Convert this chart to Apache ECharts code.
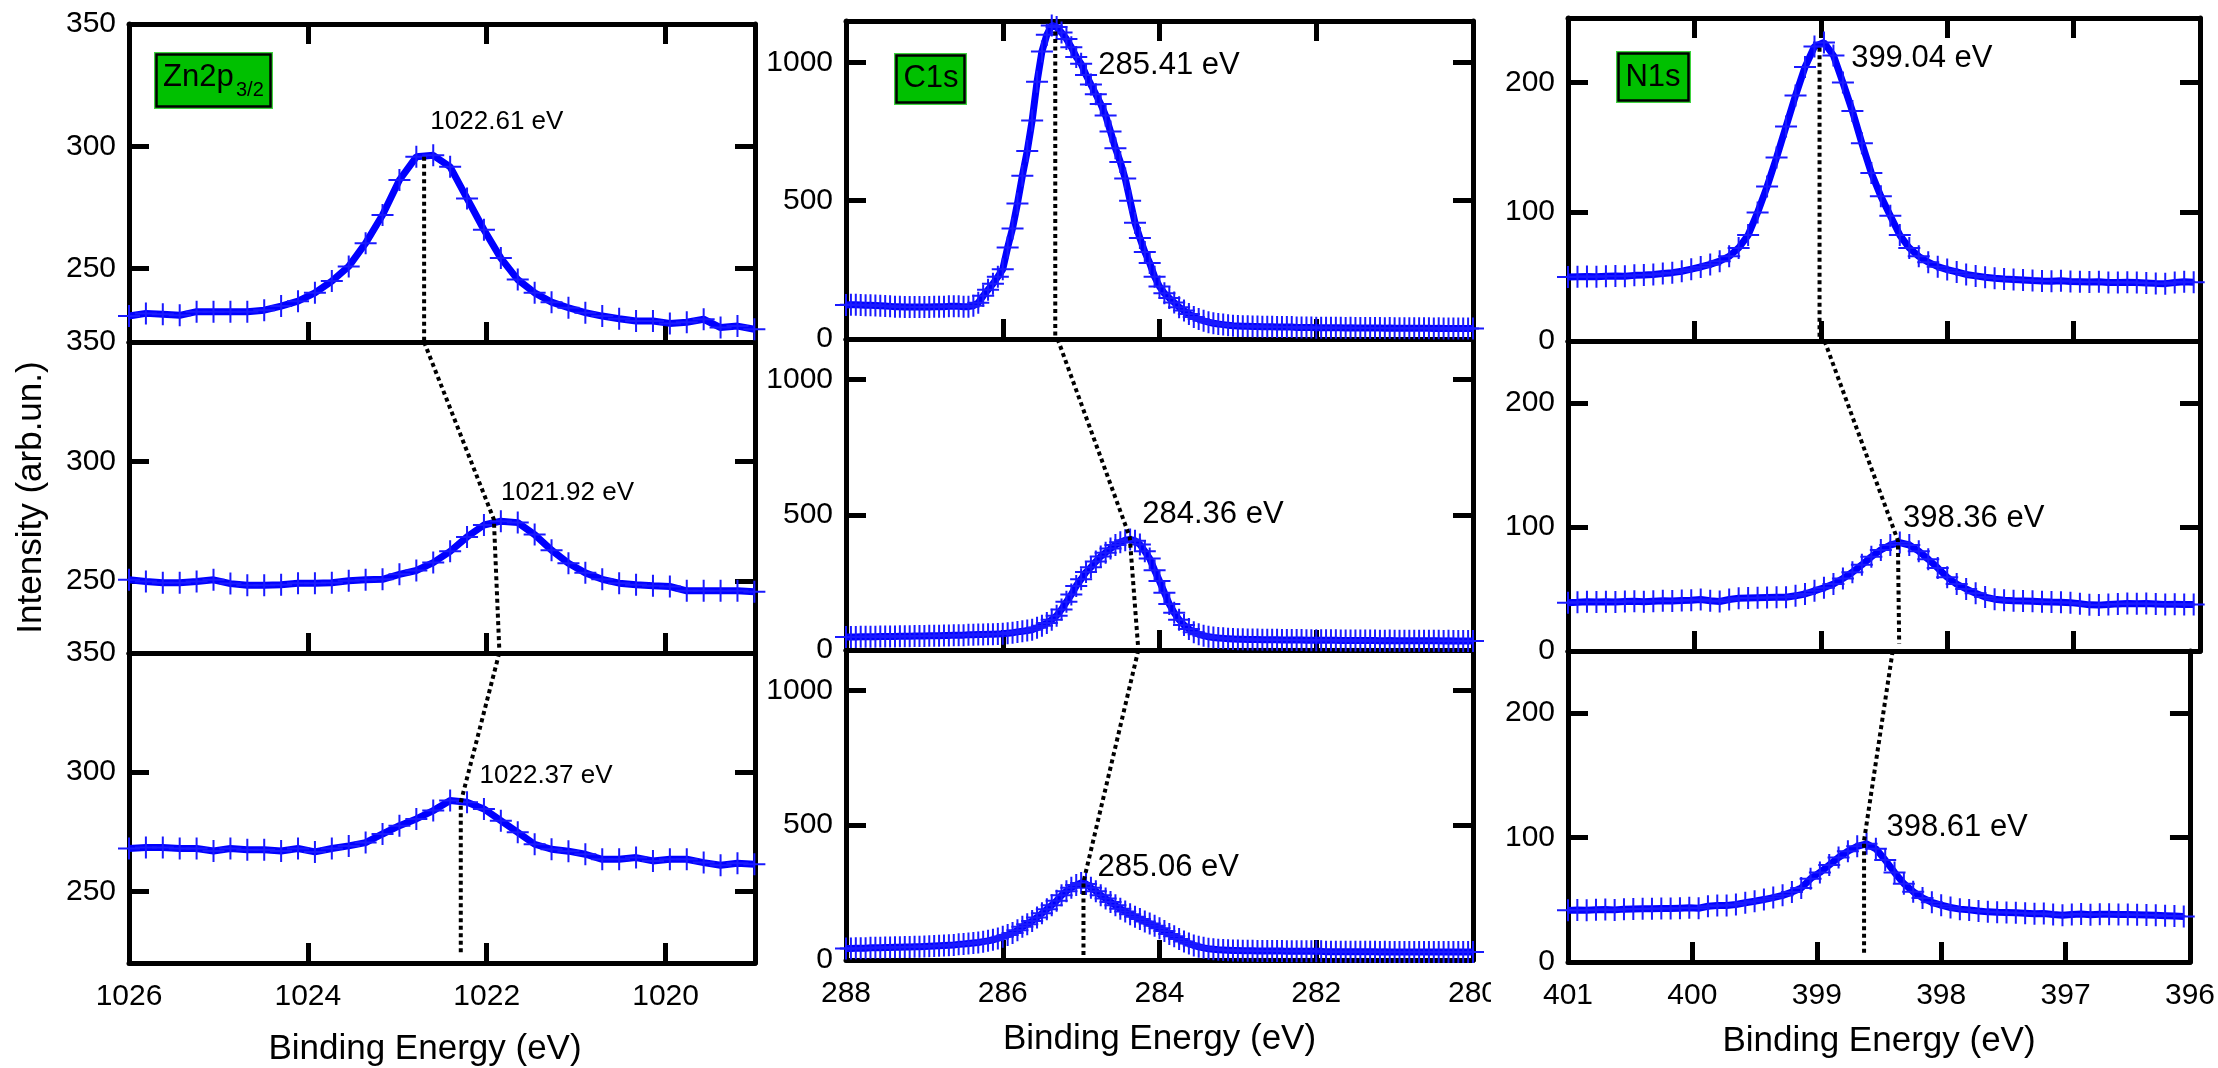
<!DOCTYPE html>
<html>
<head>
	<meta charset="utf-8">
	<title>XPS core levels</title>
	<style>
		html, body {
			margin: 0;
			padding: 0;
			background: #fff;
		}
		#chart {
			width: 2218px;
			height: 1068px;
		}
	</style>
	<script src="https://cdn.jsdelivr.net/npm/echarts@6/dist/echarts.min.js"></script>
</head>
<body>

<div id="chart"></div>

<script>

// ---- data ----

// Zn2p3/2, 38 points, 1026 -> 1019 eV
var znStart = 1026, znStep = 0.189;
var znTop = [230.6, 231.7, 231.3, 230.9, 232.4, 232.4, 232.4, 232.4, 233.0, 234.7,
	236.7, 240.1, 244.9, 250.9, 260.4, 271.9, 286.2, 295.7, 296.3, 291.6,
	278.7, 265.9, 254.3, 245.5, 240.1, 236.3, 234.0, 232.0, 230.6, 229.5,
	228.6, 228.6, 227.6, 228.1, 229.3, 225.9, 226.5, 225.2];
var znMid = [250.6, 249.9, 249.4, 249.4, 249.9, 250.6, 249.0, 248.3, 248.3, 248.5,
	249.2, 249.2, 249.4, 250.2, 250.6, 250.8, 252.9, 254.5, 257.8, 262.5,
	268.5, 273.5, 275.1, 274.5, 269.5, 263.0, 257.5, 253.5, 250.8, 249.2,
	248.5, 248.1, 247.8, 246.0, 246.0, 246.0, 246.0, 245.6];
var znBot = [268.0, 268.4, 268.4, 268.0, 268.0, 267.0, 268.0, 267.5, 267.5, 267.0,
	268.0, 266.6, 268.0, 269.1, 270.5, 274.1, 277.6, 280.4, 283.9, 288.1,
	287.4, 284.6, 279.7, 274.8, 269.8, 267.7, 266.9, 265.6, 263.5, 263.5,
	264.2, 262.8, 263.5, 263.5, 262.1, 261.0, 261.8, 261.4];
var znTicksX = [1026, 1024, 1022, 1020];
var znTicksY = [250, 300, 350];
var znDots = [
	[[1022.70, 295.7], [1022.70, 220]],
	[[1022.70, 350], [1021.92, 275.8], [1021.86, 222]],
	[[1021.86, 350], [1022.29, 287.4], [1022.29, 223.4]]
];
var znLabels = ['1022.61 eV', '1021.92 eV', '1022.37 eV'];
var znLabelAt = [[1022.63, 309.9], [1021.84, 287.1], [1022.08, 298.6]];

// C1s, 129 points, 288 -> 280 eV
var c1sStart = 288, c1sStep = 0.0625;
var c1sTop = [123, 124, 124, 123, 122, 122, 121, 120, 119, 118,
	117, 117, 116, 116, 116, 116, 116, 116, 117, 117,
	117, 118, 118, 118, 117, 117, 120, 131, 156, 178,
	200, 225, 252, 331, 400, 490, 590, 680, 790, 930,
	1040, 1100, 1134, 1128, 1108, 1085, 1055, 1020, 995, 955,
	920, 885, 850, 808, 750, 690, 640, 580, 500, 420,
	365, 315, 275, 225, 190, 165, 148, 132, 115, 103,
	90, 80, 72, 66, 61, 57, 54, 52, 50, 48,
	47, 46, 46, 45, 45, 44, 44, 44, 43, 43,
	43, 43, 42, 42, 42, 42, 41, 41, 41, 41,
	41, 41, 40, 41, 40, 40, 40, 40, 40, 40,
	39, 40, 39, 39, 39, 39, 39, 39, 39, 39,
	38, 39, 38, 38, 38, 38, 38, 38, 38];
var c1sMid = [48, 48, 48, 49, 49, 49, 49, 50, 50, 50,
	50, 51, 51, 51, 52, 52, 52, 53, 53, 53,
	54, 54, 55, 55, 55, 56, 56, 57, 57, 58,
	58, 59, 60, 62, 64, 67, 69, 72, 75, 82,
	90, 100, 112, 127, 150, 178, 205, 237, 262, 288,
	306, 327, 346, 360, 375, 388, 398, 406, 409, 404,
	390, 365, 338, 295, 255, 212, 170, 138, 112, 92,
	78, 66, 58, 53, 49, 46, 44, 43, 42, 41,
	40, 40, 39, 39, 39, 38, 38, 38, 38, 37,
	37, 37, 37, 37, 36, 36, 36, 36, 36, 36,
	36, 35, 35, 35, 35, 35, 35, 35, 35, 34,
	34, 35, 34, 34, 34, 34, 34, 34, 34, 34,
	34, 34, 33, 34, 33, 33, 33, 33, 33];
var c1sBot = [43, 43, 44, 44, 44, 45, 45, 45, 46, 46,
	47, 47, 48, 48, 49, 49, 50, 51, 52, 53,
	54, 55, 56, 58, 59, 61, 63, 65, 68, 71,
	75, 80, 86, 93, 100, 110, 123, 133, 145, 158,
	173, 188, 203, 220, 240, 255, 268, 278, 286, 282,
	268, 255, 240, 228, 215, 203, 190, 180, 170, 160,
	152, 143, 135, 127, 118, 108, 96, 88, 78, 69,
	61, 54, 49, 45, 42, 40, 38, 37, 36, 35,
	35, 34, 34, 34, 33, 33, 33, 33, 33, 33,
	32, 32, 32, 32, 32, 32, 32, 32, 31, 31,
	31, 31, 31, 31, 31, 31, 31, 31, 31, 30,
	31, 30, 30, 30, 30, 30, 30, 30, 30, 30,
	30, 30, 30, 30, 30, 30, 30, 30, 30];
var c1sTicksX = [288, 286, 284, 282, 280];
var c1sTicksY = [0, 500, 1000];
var c1sDots = [
	[[285.33, 1112], [285.33, 8]],
	[[285.30, 1150], [284.38, 418], [284.27, 0]],
	[[284.27, 1150], [284.97, 290], [284.97, 18]]
];
var c1sLabels = ['285.41 eV', '284.36 eV', '285.06 eV'];
var c1sLabelAt = [[284.78, 989], [284.22, 500], [284.79, 345]];

// N1s, 67 points, 401 -> 396 eV
var n1sStart = 401, n1sStep = 0.075;
var n1sTop = [49.6, 49.8, 49.9, 49.8, 50.1, 50.4, 50.2, 50.8, 51.1, 51.5,
	52.2, 52.9, 54.0, 55.6, 57.3, 59.3, 61.8, 65.5, 72.0, 82.0,
	99.5, 119.5, 142, 166, 190, 212, 228, 231, 221, 200,
	178, 153, 130, 112, 97, 82, 72, 65.5, 61, 57.5,
	55.3, 53.5, 51.5, 50.4, 49.3, 48.6, 48.0, 47.6, 47.2, 46.8,
	46.5, 46.3, 46.6, 46.0, 45.9, 45.7, 45.8, 45.3, 45.2, 45.5,
	45.2, 44.9, 44.6, 44.4, 45.3, 45.8, 45.5];
var n1sMid = [39.0, 39.3, 39.8, 39.5, 39.8, 39.6, 39.9, 40.1, 39.8, 40.2,
	40.5, 40.3, 40.8, 41.0, 41.6, 40.5, 39.9, 41.5, 42.5, 42.8,
	43.0, 43.2, 43.3, 43.4, 44.5, 46, 48.5, 51, 54, 58.5,
	63.5, 69.5, 76, 81.5, 85.5, 87.4, 85.5, 80.5, 74, 67,
	59.5, 54, 50, 46.5, 43.5, 41.8, 41.0, 40.5, 40.3, 40.1,
	39.8, 39.5, 39.3, 39.0, 38.2, 37.2, 37.0, 37.5, 38.0, 38.4,
	38.1, 38.3, 38.0, 37.6, 37.8, 37.5, 37.6];
var n1sBot = [41.5, 41.8, 41.6, 42.0, 42.2, 41.9, 42.5, 42.7, 42.8, 42.9,
	43.1, 43.0, 43.3, 43.6, 43.2, 44.8, 45.4, 45.5, 46.2, 47.6,
	48.8, 50.2, 51.8, 53.6, 56.2, 59.5, 67, 72, 78, 84,
	89, 93, 95, 91, 82, 72, 63, 56.5, 51.5, 48,
	45.7, 43.8, 42.5, 41.9, 41.0, 40.3, 40.0, 39.8, 39.5, 39.2,
	38.8, 38.9, 38.2, 37.6, 38.2, 38.6, 38.0, 38.3, 38.4, 38.2,
	38.1, 37.9, 37.7, 37.5, 37.2, 36.9, 36.6];
var n1sTicksX = [401, 400, 399, 398, 397, 396];
var n1sTicksY = [0, 100, 200];
var n1sDots = [
	[[399.01, 227], [399.01, 3]],
	[[398.97, 250], [398.39, 89], [398.38, 6]],
	[[398.39, 250], [398.62, 97.6], [398.62, 5]]
];
var n1sLabels = ['399.04 eV', '398.36 eV', '398.61 eV'];
var n1sLabelAt = [[398.76, 218.4], [398.35, 106.5], [398.44, 108.3]];

// ---- drawing ----

var FONT = '"Liberation Sans", Arial, Helvetica, sans-serif';
var INK = '#000';
var PLUS = 'path://M-1,-11H1V-1H11V1H1V11H-1V1H-11V-1H-1Z';

function energyGrid (start, step, n) {
	var out = [];
	for (var i = 0; i < n; i++) {
		out.push(+(start - i * step).toFixed(4));
	}
	return out;
}

function plain (v) {
	return String(v);
}

var columns = [
	{
		left: 129, width: 626, tops: [24, 342, 653], heights: [318, 311, 310],
		xMin: 1019, xMax: 1026, xTicks: znTicksX, yMin: 220, yMax: 350, yTicks: znTicksY,
		energy: energyGrid(znStart, znStep, znTop.length), curves: [znTop, znMid, znBot],
		dots: znDots, labels: znLabels, labelAt: znLabelAt,
		labelSize: 26, nameGap: 69, namePad: [0, 34, 0, 0]
	},
	{
		left: 846, width: 627, tops: [21, 339, 650], heights: [318, 311, 310],
		xMin: 280, xMax: 288, xTicks: c1sTicksX, yMin: 0, yMax: 1150, yTicks: c1sTicksY,
		energy: energyGrid(c1sStart, c1sStep, c1sTop.length), curves: [c1sTop, c1sMid, c1sBot],
		dots: c1sDots, labels: c1sLabels, labelAt: c1sLabelAt,
		labelSize: 31, nameGap: 62, namePad: 0
	},
	{
		left: 1568, width: 632, tops: [18, 341, 651], heights: [323, 310, 311],
		xMin: 396, xMax: 401, xTicks: n1sTicksX, yMin: 0, yMax: 250, yTicks: n1sTicksY,
		energy: energyGrid(n1sStart, n1sStep, n1sTop.length), curves: [n1sTop, n1sMid, n1sBot],
		dots: n1sDots, labels: n1sLabels, labelAt: n1sLabelAt,
		labelSize: 31, nameGap: 62, namePad: 0
	}
];

var frameLine = { onZero: false, lineStyle: { color: '#000', width: 5 } };
var tickStyle = { color: '#000', width: 5 };

var grids = [], xAxes = [], yAxes = [], series = [];

columns.forEach(function (col, c) {
	for (var r = 0; r < 3; r++) {
		var g = grids.length;
		var topRow = r === 0, bottomRow = r === 2;
		grids.push({ left: col.left, top: col.tops[r], width: col.width, height: col.heights[r] });

		xAxes.push({
			gridIndex: g, type: 'value', position: 'bottom',
			min: col.xMin, max: col.xMax, inverse: true,
			axisLine: frameLine,
			axisTick: { inside: true, length: 20, customValues: col.xTicks, lineStyle: tickStyle },
			axisLabel: {
				show: bottomRow, customValues: col.xTicks, formatter: plain,
				margin: 19, fontSize: 30, color: INK, fontFamily: FONT
			},
			splitLine: { show: false },
			name: bottomRow ? 'Binding Energy (eV)' : '',
			nameLocation: 'middle', nameGap: col.nameGap,
			nameTextStyle: { fontSize: 35, color: INK, fontFamily: FONT, padding: col.namePad }
		});
		xAxes.push({
			gridIndex: g, type: 'value', position: 'top',
			min: col.xMin, max: col.xMax, inverse: true,
			axisLine: frameLine,
			axisTick: { show: topRow, inside: true, length: 20, customValues: col.xTicks, lineStyle: tickStyle },
			axisLabel: { show: false },
			splitLine: { show: false }
		});
		yAxes.push({
			gridIndex: g, type: 'value', position: 'left',
			min: col.yMin, max: col.yMax,
			axisLine: frameLine,
			axisTick: { inside: true, length: 20, customValues: col.yTicks, lineStyle: tickStyle },
			axisLabel: {
				customValues: col.yTicks, formatter: plain,
				margin: 13, fontSize: 30, color: INK, fontFamily: FONT
			},
			splitLine: { show: false },
			name: (c === 0 && r === 1) ? 'Intensity (arb.un.)' : '',
			nameLocation: 'middle', nameGap: 80,
			nameTextStyle: { fontSize: 35, color: INK, fontFamily: FONT }
		});
		yAxes.push({
			gridIndex: g, type: 'value', position: 'right',
			min: col.yMin, max: col.yMax,
			axisLine: frameLine,
			axisTick: { inside: true, length: 20, customValues: col.yTicks, lineStyle: tickStyle },
			axisLabel: { show: false },
			splitLine: { show: false }
		});

		var curve = col.curves[r];
		series.push({
			type: 'line', xAxisIndex: 2 * g, yAxisIndex: 2 * g,
			data: col.energy.map(function (e, i) { return [e, curve[i]]; }),
			symbol: PLUS, symbolSize: 22,
			itemStyle: { color: '#1a1aff', borderWidth: 0 },
			lineStyle: { color: '#0000ff', width: 7 },
			z: 3
		});
		series.push({
			type: 'line', xAxisIndex: 2 * g, yAxisIndex: 2 * g,
			data: col.dots[r], symbol: 'none',
			lineStyle: { color: '#000', width: 4, type: [4, 3.5] },
			z: 5
		});
		series.push({
			type: 'scatter', xAxisIndex: 2 * g, yAxisIndex: 2 * g,
			data: [col.labelAt[r]], symbolSize: 0,
			itemStyle: { opacity: 1 },
			label: {
				show: true, position: 'right', distance: 0, formatter: col.labels[r],
				fontSize: col.labelSize, color: INK, opacity: 1, fontFamily: FONT
			},
			z: 6
		});
	}
});

function greenBox (x, y, w, h, texts) {
	var children = [
		{ type: 'rect', shape: { x: x, y: y, width: w, height: h }, style: { fill: '#3fd43f' } },
		{ type: 'rect', shape: { x: x + 2.5, y: y + 2.5, width: w - 5, height: h - 5 },
			style: { fill: '#00c000', stroke: '#000', lineWidth: 2.5 } }
	];
	texts.forEach(function (t) {
		children.push({
			type: 'text', x: t.x, y: t.y,
			style: {
				text: t.text, fill: '#000', font: t.size + 'px ' + FONT,
				textAlign: t.align || 'left', textVerticalAlign: 'middle'
			}
		});
	});
	return { type: 'group', children: children, z: 50 };
}

var chart = echarts.init(document.getElementById('chart'), null, { renderer: 'canvas' });
chart.setOption({
	animation: false,
	backgroundColor: '#fff',
	grid: grids,
	xAxis: xAxes,
	yAxis: yAxes,
	series: series,
	graphic: [
		greenBox(154, 52, 119, 57, [
			{ text: 'Zn2p', x: 163, y: 77.5, size: 31 },
			{ text: '3/2', x: 236, y: 90, size: 20 }
		]),
		greenBox(894, 53, 73, 52, [{ text: 'C1s', x: 931, y: 78.5, size: 31, align: 'center' }]),
		greenBox(1616, 51, 75, 52, [{ text: 'N1s', x: 1653, y: 77, size: 31, align: 'center' }]),
		// the "280" label is cut by the next figure panel in the original
		{ type: 'rect', shape: { x: 1491, y: 972, width: 42, height: 45 }, style: { fill: '#fff' }, z: 100 }
	]
});

</script>
</body>
</html>
